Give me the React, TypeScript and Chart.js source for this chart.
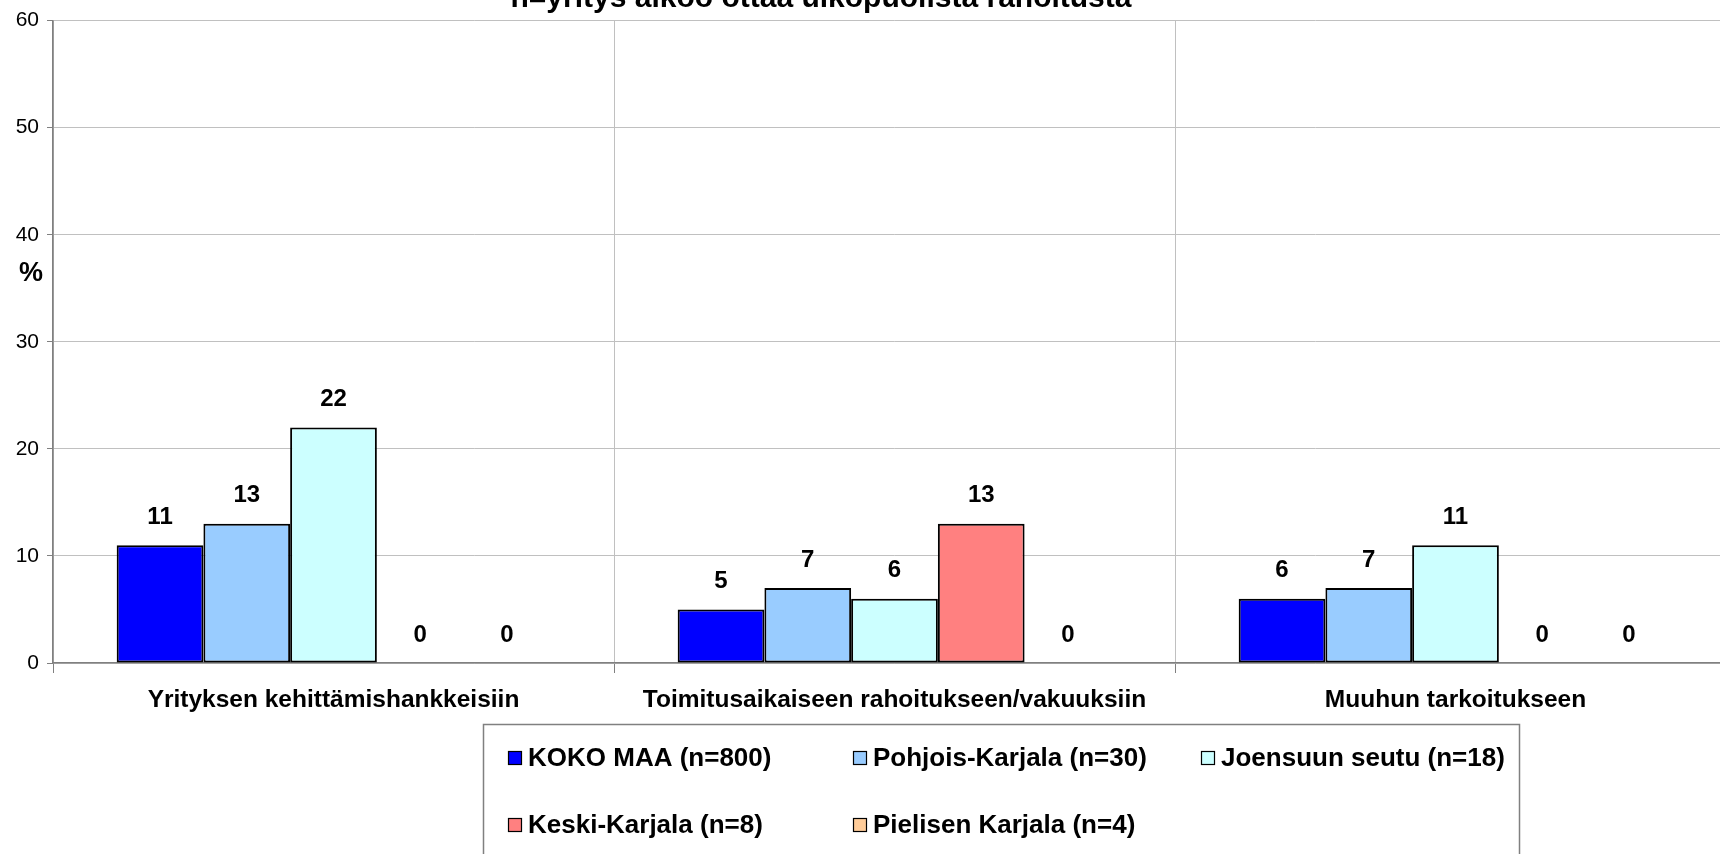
import React, { useEffect, useRef } from "react";
import { Chart, registerables } from "chart.js";

Chart.register(...registerables);

const categories = [
  "Yrityksen kehittämishankkeisiin",
  "Toimitusaikaiseen rahoitukseen/vakuuksiin",
  "Muuhun tarkoitukseen",
];
const seriesNames = [
  "KOKO MAA (n=800)",
  "Pohjois-Karjala (n=30)",
  "Joensuun seutu (n=18)",
  "Keski-Karjala (n=8)",
  "Pielisen Karjala (n=4)",
];
const kokoMaa = [11, 5, 6];
const pohjoisKarjala = [13, 7, 7];
const joensuunSeutu = [22, 6, 11];
const keskiKarjala = [0, 13, 0];
const pielisenKarjala = [0, 0, 0];
const seriesColors = ["#0000FF", "#99CCFF", "#CCFFFF", "#FF8080", "#FFCC99"];
const yTicks = [0, 10, 20, 30, 40, 50, 60];
const titleText = "n=yritys aikoo ottaa ulkopuolista rahoitusta";
const yTitle = "%";

const W = 1720;
const H = 854;
const CW = 1740; // chart canvas is wider; the page crops it like the reference
const FONT = "Arial, 'Liberation Sans', sans-serif";

const overlayPlugin = {
  id: "overlay",
  afterDatasetsDraw(chart: any) {
    const ctx = chart.ctx;
    ctx.save();
    ctx.fillStyle = "#000";
    ctx.font = `bold 24px ${FONT}`;
    ctx.textAlign = "center";
    ctx.textBaseline = "middle";
    chart.data.datasets.forEach((ds: any, i: number) => {
      const meta = chart.getDatasetMeta(i);
      meta.data.forEach((el: any, j: number) => {
        ctx.fillText(String(ds.data[j]), el.x, el.y - 28);
      });
    });
    ctx.restore();
  },
  afterDraw(chart: any) {
    const ctx = chart.ctx;
    ctx.save();
    // title (cut off at top)
    ctx.fillStyle = "#000";
    ctx.font = `bold 30px ${FONT}`;
    ctx.textAlign = "center";
    ctx.textBaseline = "alphabetic";
    ctx.fillText(titleText, 821, 7);
    // y title
    ctx.font = `bold 27px ${FONT}`;
    ctx.textAlign = "center";
    ctx.textBaseline = "middle";
    ctx.fillText(yTitle, 31, 274);
    // legend box
    ctx.strokeStyle = "#808080";
    ctx.lineWidth = 1.5;
    ctx.strokeRect(483.5, 724.5, 1036, 200);
    const cols = [508, 853, 1201];
    const rows = [758, 825];
    ctx.font = `bold 26px ${FONT}`;
    ctx.textAlign = "left";
    seriesNames.forEach((name, i) => {
      const x = cols[i % 3];
      const y = rows[Math.floor(i / 3)];
      ctx.fillStyle = seriesColors[i];
      ctx.fillRect(x, y - 7, 14, 14);
      ctx.strokeStyle = "#000";
      ctx.lineWidth = 1.2;
      ctx.strokeRect(x + 0.5, y - 6.5, 13, 13);
      ctx.fillStyle = "#000";
      ctx.fillText(name, x + 20, y + 1);
    });
    ctx.restore();
  },
};

export default function App() {
  const ref = useRef<HTMLCanvasElement>(null);
  useEffect(() => {
    document.body.style.margin = "0";
    const canvas = ref.current!;
    const values = [kokoMaa, pohjoisKarjala, joensuunSeutu, keskiKarjala, pielisenKarjala];
    const chart = new Chart(canvas, {
      type: "bar",
      data: {
        labels: categories,
        datasets: seriesNames.map((name, i) => ({
          label: name,
          data: values[i],
          backgroundColor: seriesColors[i],
          borderColor: "#000",
          borderWidth: (c: any) => (c.raw === 0 ? 0 : 2),
          borderSkipped: false,
          categoryPercentage: 0.773,
          barPercentage: 1.0,
        })),
      },
      options: {
        animation: false,
        responsive: false,
        devicePixelRatio: 1,
        layout: { padding: { left: 0, top: 12, right: 4, bottom: 0 } },
        plugins: {
          legend: { display: false },
          title: { display: false },
          tooltip: { enabled: false },
        },
        scales: {
          x: {
            afterFit: (s: any) => {
              s.height = 191;
            },
            grid: {
              color: "#c0c0c0",
              tickColor: "#808080",
              tickLength: 10,
              lineWidth: 1,
              offset: true,
            },
            border: { color: "#808080", width: 1.6 },
            ticks: {
              color: "#000",
              font: { family: FONT, size: 24.5, weight: "bold" },
              padding: 13,
              maxRotation: 0,
            },
          },
          y: {
            min: 0,
            max: 60,
            afterFit: (s: any) => {
              s.width = 53;
            },
            afterBuildTicks: (s: any) => {
              s.ticks = yTicks.map((v) => ({ value: v }));
            },
            grid: {
              color: "#c0c0c0",
              tickColor: "#808080",
              tickLength: 6,
              lineWidth: 1,
            },
            border: { color: "#808080", width: 1.6 },
            ticks: {
              color: "#000",
              font: { family: FONT, size: 21 },
              padding: 8,
            },
          },
        },
      },
      plugins: [overlayPlugin],
    });
    return () => chart.destroy();
  }, []);
  return (
    <div
      style={{
        position: "absolute",
        left: 0,
        top: 0,
        width: W,
        height: H,
        overflow: "hidden",
        background: "#fff",
      }}
    >
      <canvas ref={ref} width={CW} height={H} style={{ width: CW, height: H, display: "block" }} />
    </div>
  );
}
